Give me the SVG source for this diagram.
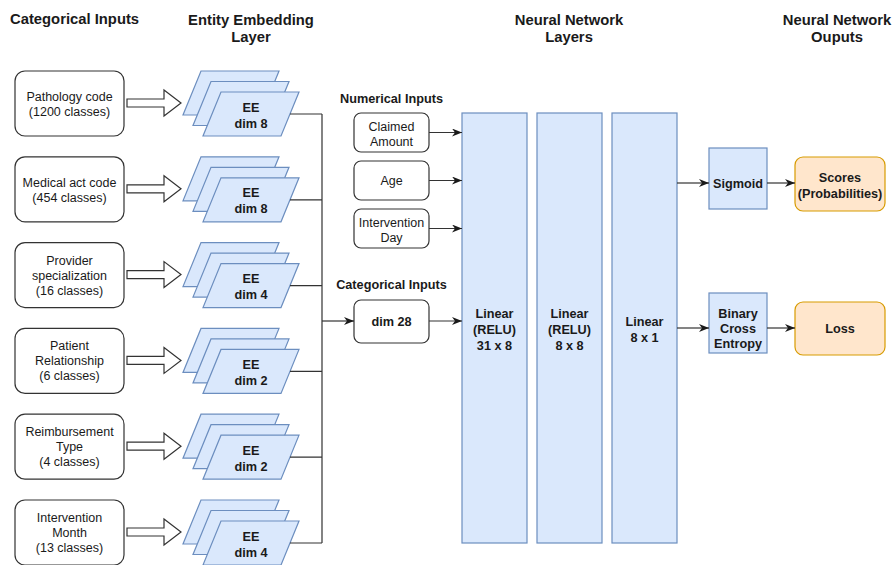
<svg xmlns="http://www.w3.org/2000/svg" width="893" height="565" viewBox="0 0 893 565">
<defs>
<style>
text{font-family:"Liberation Sans",Arial,sans-serif;fill:#1a1a1a;text-anchor:middle}
.h{font-size:14.8px;font-weight:bold}
.sh{font-size:12.7px;font-weight:bold}
.t{font-size:12.5px}
.b{font-size:12.7px;font-weight:bold}
.box{fill:#fff;stroke:#333;stroke-width:1.2}
.blue{fill:#dae8fc;stroke:#6c8ebf;stroke-width:1.2}
.orange{fill:#ffe6cc;stroke:#d79b00;stroke-width:1.2}
.hollow{fill:#fff;stroke:#333;stroke-width:1.2}
.con{fill:none;stroke:#333;stroke-width:1.2}
.arr{marker-end:url(#ah)}
</style>
<marker id="ah" markerUnits="userSpaceOnUse" viewBox="0 0 10 8" markerWidth="10" markerHeight="8" refX="10" refY="4" orient="auto">
<path d="M0,0 L10,4 L0,8 L3,4 Z" fill="#1a1a1a"/>
</marker>
<g id="ee-stack">
<polygon class="blue" points="201,0 279,0 261,44 183,44"/>
<polygon class="blue" points="211,10.5 289,10.5 271,54.5 193,54.5"/>
<polygon class="blue" points="221,21 299,21 281,65 203,65"/>
</g>
<path id="hollow-arrow" class="hollow" d="M127,28 L164,28 L164,19 L181,32 L164,45 L164,36 L127,36 Z"/>
</defs>

<g id="headings">
<text class="h" x="10" y="24" style="text-anchor:start">Categorical Inputs</text>
<text class="h" x="251" y="25">Entity Embedding</text>
<text class="h" x="251" y="42">Layer</text>
<text class="h" x="569" y="25">Neural Network</text>
<text class="h" x="569" y="42">Layers</text>
<text class="h" x="837" y="25">Neural Network</text>
<text class="h" x="837" y="42">Ouputs</text>
<text class="sh" x="391.5" y="103">Numerical Inputs</text>
<text class="sh" x="391.5" y="289">Categorical Inputs</text>
</g>

<g id="in-pathology" transform="translate(0,71)">
<rect class="box" x="15" y="0" width="109" height="65" rx="10"/>
<text class="t" x="69.5" y="30">Pathology code</text>
<text class="t" x="69.5" y="45">(1200 classes)</text>
</g>
<g id="in-medical" transform="translate(0,156.8)">
<rect class="box" x="15" y="0" width="109" height="65" rx="10"/>
<text class="t" x="69.5" y="30">Medical act code</text>
<text class="t" x="69.5" y="45">(454 classes)</text>
</g>
<g id="in-provider" transform="translate(0,242.6)">
<rect class="box" x="15" y="0" width="109" height="65" rx="10"/>
<text class="t" x="69.5" y="22">Provider</text>
<text class="t" x="69.5" y="37">specialization</text>
<text class="t" x="69.5" y="52">(16 classes)</text>
</g>
<g id="in-patient" transform="translate(0,328.4)">
<rect class="box" x="15" y="0" width="109" height="65" rx="10"/>
<text class="t" x="69.5" y="22">Patient</text>
<text class="t" x="69.5" y="37">Relationship</text>
<text class="t" x="69.5" y="52">(6 classes)</text>
</g>
<g id="in-reimb" transform="translate(0,414.2)">
<rect class="box" x="15" y="0" width="109" height="65" rx="10"/>
<text class="t" x="69.5" y="22">Reimbursement</text>
<text class="t" x="69.5" y="37">Type</text>
<text class="t" x="69.5" y="52">(4 classes)</text>
</g>
<g id="in-month" transform="translate(0,500)">
<rect class="box" x="15" y="0" width="109" height="65" rx="10"/>
<text class="t" x="69.5" y="22">Intervention</text>
<text class="t" x="69.5" y="37">Month</text>
<text class="t" x="69.5" y="52">(13 classes)</text>
</g>

<g id="hollow-arrows">
<use href="#hollow-arrow" transform="translate(0,71)"/>
<use href="#hollow-arrow" transform="translate(0,156.8)"/>
<use href="#hollow-arrow" transform="translate(0,242.6)"/>
<use href="#hollow-arrow" transform="translate(0,328.4)"/>
<use href="#hollow-arrow" transform="translate(0,414.2)"/>
<use href="#hollow-arrow" transform="translate(0,500)"/>
</g>

<g id="ee1" transform="translate(0,71)"><use href="#ee-stack"/><text class="b" x="251" y="40.5">EE</text><text class="b" x="251" y="56.5">dim 8</text></g>
<g id="ee2" transform="translate(0,156.8)"><use href="#ee-stack"/><text class="b" x="251" y="40.5">EE</text><text class="b" x="251" y="56.5">dim 8</text></g>
<g id="ee3" transform="translate(0,242.6)"><use href="#ee-stack"/><text class="b" x="251" y="40.5">EE</text><text class="b" x="251" y="56.5">dim 4</text></g>
<g id="ee4" transform="translate(0,328.4)"><use href="#ee-stack"/><text class="b" x="251" y="40.5">EE</text><text class="b" x="251" y="56.5">dim 2</text></g>
<g id="ee5" transform="translate(0,414.2)"><use href="#ee-stack"/><text class="b" x="251" y="40.5">EE</text><text class="b" x="251" y="56.5">dim 2</text></g>
<g id="ee6" transform="translate(0,500)"><use href="#ee-stack"/><text class="b" x="251" y="40.5">EE</text><text class="b" x="251" y="56.5">dim 4</text></g>

<g id="num-claimed">
<rect class="box" x="354" y="113" width="75" height="39" rx="7"/>
<text class="t" x="391.5" y="131">Claimed</text>
<text class="t" x="391.5" y="145.5">Amount</text>
</g>
<g id="num-age">
<rect class="box" x="354" y="161" width="75" height="39" rx="7"/>
<text class="t" x="391.5" y="185">Age</text>
</g>
<g id="num-day">
<rect class="box" x="354" y="209" width="75" height="39" rx="7"/>
<text class="t" x="391.5" y="227">Intervention</text>
<text class="t" x="391.5" y="241.5">Day</text>
</g>
<g id="cat-dim28">
<rect class="box" x="354" y="300" width="75" height="43" rx="7"/>
<text class="b" x="391.5" y="326">dim 28</text>
</g>

<g id="linear1">
<rect class="blue" x="462" y="113" width="65" height="430"/>
<text class="b" x="494.5" y="318">Linear</text>
<text class="b" x="494.5" y="334">(RELU)</text>
<text class="b" x="494.5" y="349.5">31 x 8</text>
</g>
<g id="linear2">
<rect class="blue" x="537" y="113" width="65" height="430"/>
<text class="b" x="569.5" y="318">Linear</text>
<text class="b" x="569.5" y="334">(RELU)</text>
<text class="b" x="569.5" y="349.5">8 x 8</text>
</g>
<g id="linear3">
<rect class="blue" x="612" y="113" width="65" height="430"/>
<text class="b" x="644.5" y="326">Linear</text>
<text class="b" x="644.5" y="342">8 x 1</text>
</g>

<g id="sigmoid">
<rect class="blue" x="709" y="148" width="58" height="61"/>
<text class="b" x="738" y="188">Sigmoid</text>
</g>
<g id="bce">
<rect class="blue" x="709" y="293" width="58" height="60"/>
<text class="b" x="738" y="318">Binary</text>
<text class="b" x="738" y="333">Cross</text>
<text class="b" x="738" y="348">Entropy</text>
</g>
<g id="scores">
<rect class="orange" x="795" y="157" width="90" height="54" rx="8"/>
<text class="b" x="840" y="182">Scores</text>
<text class="b" x="840" y="198">(Probabilities)</text>
</g>
<g id="loss">
<rect class="orange" x="795" y="302" width="90" height="53" rx="8"/>
<text class="b" x="840" y="333">Loss</text>
</g>

<g id="connectors">
<path class="con" d="M290,114 H322 M290,199.8 H322 M290,285.6 H322 M290,371.4 H322 M290,457.2 H322 M290,543 H322 M322,114 V543"/>
<path class="con arr" d="M322,321 H354"/>
<path class="con arr" d="M429,132.5 H462"/>
<path class="con arr" d="M429,180.5 H462"/>
<path class="con arr" d="M429,228.5 H462"/>
<path class="con arr" d="M429,321 H462"/>
<path class="con arr" d="M677,183 H709"/>
<path class="con arr" d="M677,328 H709"/>
<path class="con arr" d="M767,183 H795"/>
<path class="con arr" d="M767,328 H795"/>
</g>
</svg>
